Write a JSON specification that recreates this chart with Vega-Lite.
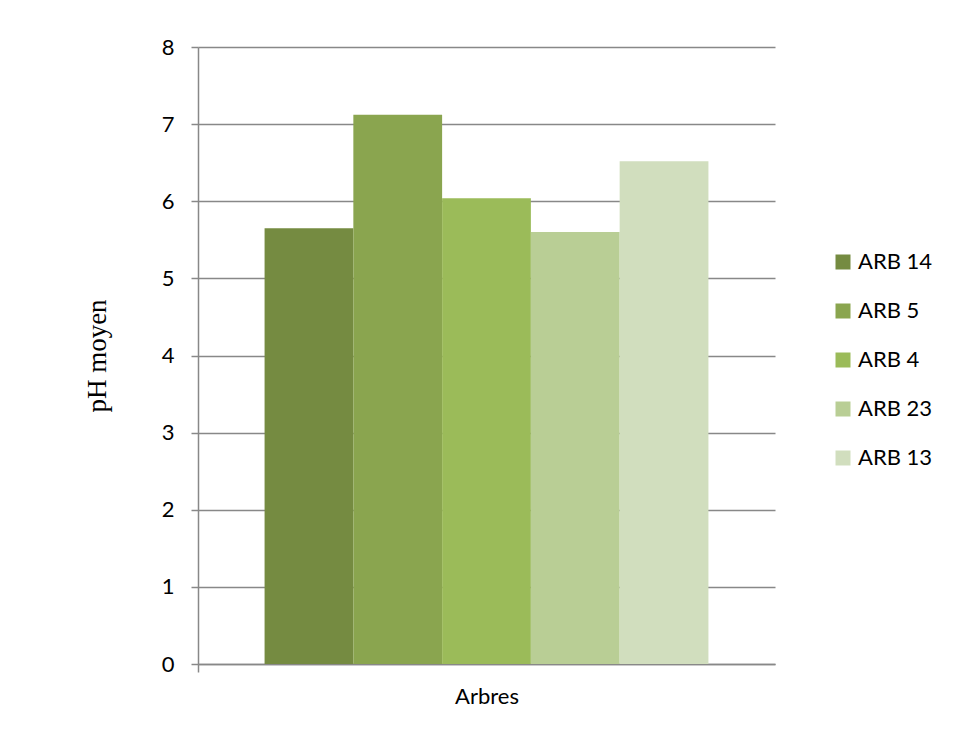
{
  "$schema": "https://vega.github.io/schema/vega-lite/v6.json",
  "width": 577,
  "height": 617,
  "autosize": {"type": "none"},
  "padding": {"left": 198, "top": 47, "right": 181, "bottom": 85},
  "background": "white",
  "data": {
    "values": [
      {"groupe": "Arbres", "arbre": "ARB 14", "ph": 5.65},
      {"groupe": "Arbres", "arbre": "ARB 5", "ph": 7.12},
      {"groupe": "Arbres", "arbre": "ARB 4", "ph": 6.04},
      {"groupe": "Arbres", "arbre": "ARB 23", "ph": 5.6},
      {"groupe": "Arbres", "arbre": "ARB 13", "ph": 6.52}
    ]
  },
  "mark": {"type": "bar"},
  "encoding": {
    "x": {
      "field": "groupe",
      "type": "nominal",
      "scale": {"paddingInner": 0, "paddingOuter": 0},
      "axis": {
        "labels": false,
        "ticks": true,
        "bandPosition": 0,
        "tickSize": 8,
        "tickColor": "#888888",
        "tickWidth": 1.5,
        "title": "Arbres",
        "titleFont": "Lato",
        "titleFontSize": 22,
        "titleFontWeight": "normal",
        "titleColor": "#000000",
        "titlePadding": 14,
        "domainColor": "#888888",
        "domainWidth": 1.5
      }
    },
    "xOffset": {
      "field": "arbre",
      "type": "nominal",
      "sort": ["ARB 14", "ARB 5", "ARB 4", "ARB 23", "ARB 13"],
      "scale": {"paddingInner": 0, "paddingOuter": 0.75}
    },
    "y": {
      "field": "ph",
      "type": "quantitative",
      "scale": {"domain": [0, 8], "nice": false},
      "axis": {
        "values": [0, 1, 2, 3, 4, 5, 6, 7, 8],
        "title": "pH moyen",
        "titleFont": "Liberation Serif",
        "titleFontSize": 27,
        "titleFontWeight": "normal",
        "titleColor": "#000000",
        "titlePadding": 50,
        "labelFont": "Lato",
        "labelFontSize": 22,
        "labelColor": "#000000",
        "labelPadding": 17,
        "tickSize": 7,
        "tickColor": "#888888",
        "tickWidth": 1.5,
        "domainColor": "#888888",
        "domainWidth": 1.5,
        "grid": true,
        "gridColor": "#888888",
        "gridWidth": 1.5
      }
    },
    "color": {
      "field": "arbre",
      "type": "nominal",
      "scale": {
        "domain": ["ARB 14", "ARB 5", "ARB 4", "ARB 23", "ARB 13"],
        "range": ["#758B41", "#8AA54F", "#9BBB59", "#B9CE95", "#D1DEBE"]
      },
      "legend": {
        "title": null,
        "orient": "none",
        "legendX": 634,
        "legendY": 204,
        "symbolType": "square",
        "symbolSize": 225,
        "symbolStrokeWidth": 0,
        "labelFont": "Lato",
        "labelFontSize": 22,
        "labelColor": "#000000",
        "labelOffset": 4,
        "rowPadding": 27
      }
    }
  },
  "config": {
    "view": {"stroke": null}
  }
}
